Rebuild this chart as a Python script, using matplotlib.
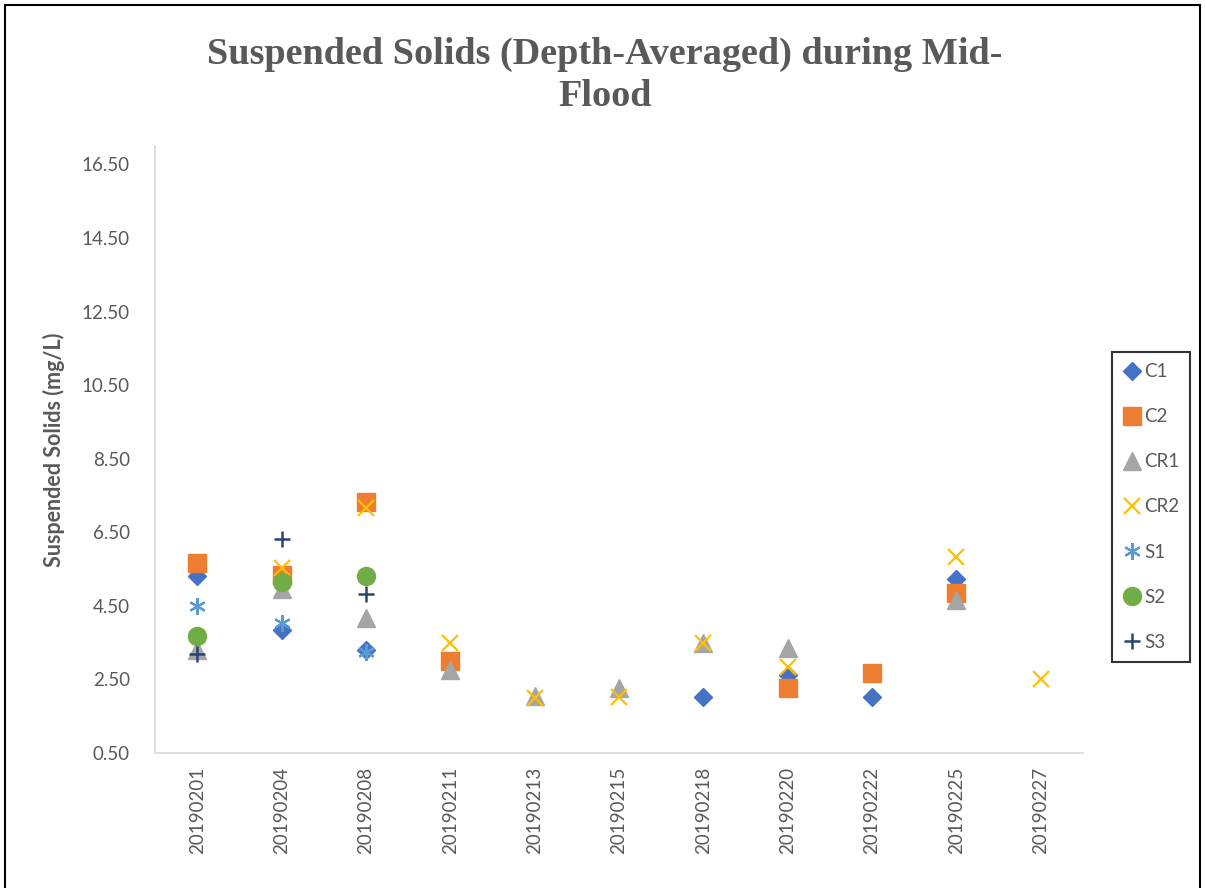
import numpy as np
import matplotlib
matplotlib.use('Agg')
import matplotlib.pyplot as plt
from matplotlib.patches import Rectangle

nan = np.nan

# sampling dates (category axis)
dates = ['20190201', '20190204', '20190208', '20190211', '20190213', '20190215',
         '20190218', '20190220', '20190222', '20190225', '20190227']

# depth-averaged suspended solids, mg/L (nan = no sample)
c1  = [5.30, 3.84, 3.30, nan, nan, nan, 2.02, 2.62, 2.02, 5.23, nan]
c2  = [5.66, 5.34, 7.32, 3.00, nan, nan, nan, 2.27, 2.67, 4.85, nan]
cr1 = [3.30, 4.95, 4.17, 2.76, 2.06, 2.27, 3.49, 3.35, nan, 4.66, nan]
cr2 = [nan, 5.53, 7.16, 3.49, 1.99, 2.02, 3.49, 2.84, nan, 5.83, 2.51]
s1  = [4.49, 4.03, 3.24, nan, nan, nan, nan, nan, nan, nan, nan]
s2  = [3.68, 5.15, 5.31, nan, nan, nan, nan, nan, nan, nan, nan]
s3  = [3.19, 6.32, 4.82, nan, nan, nan, nan, nan, nan, nan, nan]

names = ['C1', 'C2', 'CR1', 'CR2', 'S1', 'S2', 'S3']
series = [c1, c2, cr1, cr2, s1, s2, s3]

styles = [
    dict(marker='D', ms=9.5, color='#4472C4', mec='#4472C4'),
    dict(marker='s', ms=12.5, color='#ED7D31', mec='#ED7D31'),
    dict(marker='^', ms=13, color='#A5A5A5', mec='#A5A5A5'),
    dict(marker='x', ms=11.5, color='#FFC000', mew=1.6),
    dict(marker=(6, 2, 0), ms=12, color='#5B9BD5', mew=1.6),
    dict(marker='o', ms=13, color='#70AD47', mec='#70AD47'),
    dict(marker='+', ms=12, color='#264478', mew=1.8),
]

grey = '#595959'
fig = plt.figure(figsize=(12.05, 8.88), dpi=100)
ax = fig.add_axes([155/1205, (888-753)/888, (1083-155)/1205, (753-146)/888])

x = np.arange(len(dates))
for name, vals, st in zip(names, series, styles):
    ax.plot(x, vals, ls='none', label=name, **st)

ax.set_xlim(-0.5, len(dates) - 0.5)
ax.set_ylim(0.5, 17)
ax.set_yticks(np.arange(0.5, 16.6, 2))
ax.set_yticklabels(['%.2f' % v for v in np.arange(0.5, 16.6, 2)])
ax.set_xticks(x)
ax.set_xticklabels(dates, rotation=90)
ax.tick_params(length=0, labelsize=13.5, colors=grey, pad=10)
ax.tick_params(axis='y', pad=18)
for lab in ax.get_xticklabels() + ax.get_yticklabels():
    lab.set_family('Lato')
for s in ['top', 'right']:
    ax.spines[s].set_visible(False)
for s in ['left', 'bottom']:
    ax.spines[s].set_color('#D9D9D9')
    ax.spines[s].set_linewidth(1.2)

ax.set_ylabel('Suspended Solids (mg/L)', fontsize=15.5, fontweight='bold',
              color=grey, family='Lato', labelpad=12)

fig.text(0.502, 0.915, 'Suspended Solids (Depth-Averaged) during Mid-\nFlood',
         ha='center', va='center', fontsize=27.5, fontweight='bold', color=grey,
         family='Liberation Serif', linespacing=1.27)

leg = ax.legend(loc='center left', bbox_to_anchor=(1112/1205, (888-507)/888),
                bbox_transform=fig.transFigure, frameon=True, fancybox=False,
                prop=dict(family='Lato', size=13.5), labelspacing=1.5,
                handlelength=0.9, handletextpad=0.2, borderpad=0.6,
                borderaxespad=0, labelcolor=grey, edgecolor='black')
leg.get_frame().set_linewidth(1.5)

# outer chart border
fig.patches.append(Rectangle((5/1205, -0.05), 1195/1205, 1.05 - 5/888,
                             transform=fig.transFigure, fill=False,
                             edgecolor='black', linewidth=1.5))

fig.savefig('out.png', dpi=100)
